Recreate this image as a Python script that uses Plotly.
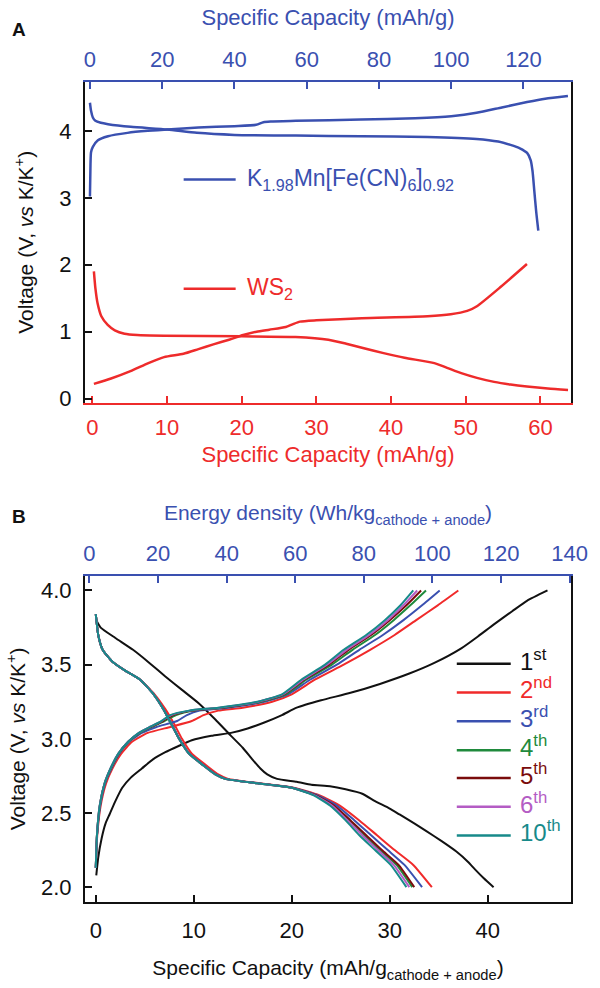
import plotly.graph_objects as go

# ---------------- Panel A data ----------------
# K1.98Mn[Fe(CN)6]0.92 cathode (top x axis, mAh/g)
k_chg_cap = [0, 0.15, 0.3, 0.8, 2.2, 5, 10.4, 16, 21.4, 30, 40, 46, 48, 50, 57, 75, 90, 100, 107, 114, 121, 126, 132.3]
k_chg_v = [3.02, 3.5, 3.68, 3.76, 3.86, 3.92, 3.97, 4.00, 4.02, 4.05, 4.07, 4.09, 4.13, 4.14, 4.15, 4.17, 4.19, 4.22, 4.27, 4.35, 4.43, 4.48, 4.52]
k_dis_cap = [0, 0.3, 0.8, 1.5, 3, 5, 11.3, 21.4, 29.6, 40, 57, 75, 93.4, 107, 113, 116.4, 119, 121, 122, 122.5, 123.0, 123.5, 124.1]
k_dis_v = [4.42, 4.3, 4.2, 4.15, 4.12, 4.10, 4.06, 4.02, 3.97, 3.94, 3.93, 3.92, 3.91, 3.88, 3.84, 3.79, 3.74, 3.67, 3.56, 3.4, 3.1, 2.8, 2.51]
# WS2 anode (bottom x axis, mAh/g)
ws2_chg_cap = [0.2, 2.5, 5.1, 7.5, 9.6, 12.2, 14.2, 16.2, 18.3, 20.2, 22, 23.7, 25.9, 26.8, 27.8, 30, 36.1, 44.9, 48, 50.2, 51.5, 54.7, 58.2]
ws2_chg_v = [0.22, 0.30, 0.41, 0.53, 0.62, 0.67, 0.74, 0.81, 0.88, 0.95, 1.00, 1.03, 1.07, 1.11, 1.15, 1.17, 1.20, 1.23, 1.26, 1.31, 1.38, 1.67, 2.01]
ws2_dis_cap = [0.2, 0.4, 0.7, 1.2, 2.05, 3, 4.3, 6, 9.6, 20, 27.2, 31.6, 34, 36.1, 39, 41.8, 45.8, 47.5, 49.4, 51.5, 53.8, 56, 58.2, 61, 63.7]
ws2_dis_v = [1.90, 1.65, 1.42, 1.23, 1.10, 1.02, 0.97, 0.95, 0.94, 0.93, 0.92, 0.88, 0.82, 0.76, 0.68, 0.61, 0.53, 0.46, 0.38, 0.31, 0.25, 0.21, 0.18, 0.15, 0.13]

# ---------------- Panel B data ----------------
cycle_labels = ["1<sup>st</sup>", "2<sup>nd</sup>", "3<sup>rd</sup>", "4<sup>th</sup>",
                "5<sup>th</sup>", "6<sup>th</sup>", "10<sup>th</sup>"]
cycle_colors = ["#111111", "#f02a2a", "#3a50b0", "#1f8a3c", "#7a0c0c", "#b45cc4", "#178a8a"]

# 1st cycle (black)
c1_chg_cap = [0.05, 0.25, 0.6, 1.0, 1.4, 2.0, 2.7, 3.6, 4.7, 5.8, 7.1, 8.4, 9.8, 11.8, 13.8, 15.5, 17.2, 19, 20.5, 23.0, 26, 29, 32, 34.5, 37.3, 39, 40.6, 42.5, 44, 46.1]
c1_chg_v = [2.08, 2.2, 2.33, 2.43, 2.49, 2.58, 2.67, 2.74, 2.80, 2.86, 2.91, 2.95, 2.99, 3.02, 3.04, 3.07, 3.11, 3.16, 3.21, 3.26, 3.31, 3.37, 3.44, 3.51, 3.61, 3.69, 3.77, 3.86, 3.93, 4.0]
c1_dis_cap = [0.05, 0.5, 2, 3.8, 5.5, 7.1, 8.8, 10.5, 12.2, 13.8, 15.0, 16.0, 16.8, 17.5, 18.5, 20.5, 22, 23.9, 25.5, 27.2, 28.5, 30, 31, 32.5, 33.7, 35.3, 36.8, 38, 38.7, 39.6, 40.6]
c1_dis_v = [3.80, 3.75, 3.68, 3.60, 3.51, 3.42, 3.33, 3.24, 3.13, 3.02, 2.94, 2.86, 2.80, 2.76, 2.73, 2.71, 2.69, 2.68, 2.66, 2.63, 2.58, 2.53, 2.49, 2.43, 2.38, 2.31, 2.24, 2.17, 2.12, 2.06, 2.0]

# Cycles 2-10: voltages read at fixed levels, capacity per cycle
v_chg_levels = [2.13, 2.35, 2.55, 2.70, 2.80, 2.90, 2.98, 3.04, 3.08, 3.12, 3.16, 3.19, 3.21, 3.25, 3.30, 3.40, 3.50, 3.60, 3.70, 3.80, 3.90, 4.00]
cap_chg_c2 = [0.0, 0.15, 0.5, 1.05, 1.7, 2.6, 3.7, 5.3, 7.6, 9.8, 11.0, 12.5, 15.0, 18.0, 20.0, 22.4, 25.3, 28.0, 30.5, 32.7, 34.9, 37.0]
cap_chg_c3 = [0.0, 0.13, 0.45, 0.95, 1.6, 2.4, 3.4, 4.7, 6.2, 8.3, 9.3, 10.6, 13.5, 17.2, 19.6, 21.9, 24.6, 26.9, 29.3, 31.4, 33.3, 35.1]
cap_chg_c4 = [0.0, 0.12, 0.42, 0.92, 1.55, 2.35, 3.35, 4.5, 5.7, 7.0, 8.2, 10.0, 13.0, 16.9, 19.4, 21.5, 24.1, 26.2, 28.5, 30.4, 32.1, 33.7]
cap_chg_c5 = [0.0, 0.12, 0.41, 0.91, 1.52, 2.32, 3.3, 4.45, 5.6, 6.85, 7.9, 9.8, 12.8, 16.7, 19.2, 21.3, 23.8, 25.8, 28.1, 30.0, 31.7, 33.2]
cap_chg_c6 = [0.0, 0.12, 0.4, 0.9, 1.5, 2.3, 3.3, 4.4, 5.5, 6.7, 7.7, 9.6, 12.6, 16.6, 19.1, 21.2, 23.6, 25.6, 27.9, 29.8, 31.4, 32.8]
cap_chg_c10 = [0.0, 0.12, 0.4, 0.9, 1.5, 2.3, 3.3, 4.4, 5.5, 6.7, 7.6, 9.5, 12.5, 16.5, 19.0, 21.0, 23.4, 25.3, 27.6, 29.5, 31.1, 32.4]

v_dis_levels = [3.84, 3.70, 3.60, 3.52, 3.46, 3.40, 3.30, 3.20, 3.10, 3.00, 2.90, 2.82, 2.76, 2.73, 2.70, 2.67, 2.62, 2.55, 2.45, 2.35, 2.25, 2.15, 2.00]
cap_dis_c2 = [0.0, 0.25, 0.7, 1.7, 3.0, 4.5, 6.0, 7.1, 8.0, 8.8, 9.8, 11.3, 12.5, 13.5, 16.8, 20.2, 22.8, 24.9, 26.9, 28.7, 30.5, 32.4, 34.3]
cap_dis_c3 = [0.0, 0.25, 0.7, 1.7, 3.0, 4.5, 5.9, 6.9, 7.75, 8.55, 9.55, 11.05, 12.25, 13.25, 16.6, 20.1, 22.6, 24.6, 26.4, 28.1, 29.8, 31.5, 33.3]
cap_dis_c4 = [0.0, 0.25, 0.7, 1.7, 3.0, 4.5, 5.9, 6.9, 7.7, 8.5, 9.5, 11.0, 12.2, 13.2, 16.5, 20.0, 22.4, 24.2, 25.9, 27.4, 29.0, 30.7, 32.3]
cap_dis_c5 = [0.0, 0.25, 0.7, 1.7, 3.0, 4.5, 5.9, 6.9, 7.7, 8.5, 9.5, 11.0, 12.2, 13.2, 16.5, 20.0, 22.4, 24.3, 26.0, 27.6, 29.2, 30.9, 32.5]
cap_dis_c6 = [0.0, 0.25, 0.7, 1.7, 3.0, 4.5, 5.9, 6.9, 7.7, 8.5, 9.5, 11.0, 12.2, 13.2, 16.5, 20.0, 22.3, 24.1, 25.7, 27.2, 28.8, 30.4, 32.0]
cap_dis_c10 = [0.0, 0.25, 0.7, 1.7, 3.0, 4.5, 5.9, 6.9, 7.7, 8.5, 9.5, 11.0, 12.2, 13.2, 16.5, 20.0, 22.2, 23.9, 25.5, 26.9, 28.5, 30.1, 31.7]

# tick values
a_y_ticks = [0, 1, 2, 3, 4]
a_top_ticks = [0, 20, 40, 60, 80, 100, 120]
a_bot_ticks = [0, 10, 20, 30, 40, 50, 60]
b_y_ticks = [2.0, 2.5, 3.0, 3.5, 4.0]
b_bot_ticks = [0, 10, 20, 30, 40]
b_top_ticks = [0, 20, 40, 60, 80, 100, 120, 140]

BLUE = "#3a50b0"
RED = "#ee2b2b"
FONT = "Liberation Sans, Arial, sans-serif"

fig = go.Figure()

spl = dict(shape="spline", smoothing=0.6)
# Panel A traces
fig.add_trace(go.Scatter(x=k_chg_cap, y=k_chg_v, xaxis="x2", yaxis="y", mode="lines",
                         line=dict(color=BLUE, width=2.5, **spl), showlegend=False))
fig.add_trace(go.Scatter(x=k_dis_cap, y=k_dis_v, xaxis="x2", yaxis="y", mode="lines",
                         line=dict(color=BLUE, width=2.5, **spl), showlegend=False))
fig.add_trace(go.Scatter(x=ws2_chg_cap, y=ws2_chg_v, xaxis="x", yaxis="y", mode="lines",
                         line=dict(color=RED, width=2.5, **spl), showlegend=False))
fig.add_trace(go.Scatter(x=ws2_dis_cap, y=ws2_dis_v, xaxis="x", yaxis="y", mode="lines",
                         line=dict(color=RED, width=2.5, **spl), showlegend=False))

# Panel B traces
chg_caps = [c1_chg_cap, cap_chg_c2, cap_chg_c3, cap_chg_c4, cap_chg_c5, cap_chg_c6, cap_chg_c10]
dis_caps = [c1_dis_cap, cap_dis_c2, cap_dis_c3, cap_dis_c4, cap_dis_c5, cap_dis_c6, cap_dis_c10]
for i, col in enumerate(cycle_colors):
    cv = c1_chg_v if i == 0 else v_chg_levels
    dv = c1_dis_v if i == 0 else v_dis_levels
    fig.add_trace(go.Scatter(x=chg_caps[i], y=cv, xaxis="x3", yaxis="y2", mode="lines",
                             line=dict(color=col, width=2, shape="spline", smoothing=0.5), showlegend=False))
    fig.add_trace(go.Scatter(x=dis_caps[i], y=dv, xaxis="x3", yaxis="y2", mode="lines",
                             line=dict(color=col, width=2, shape="spline", smoothing=0.5), showlegend=False))
# anchor trace for the energy density axis
fig.add_trace(go.Scatter(x=[], y=[], xaxis="x4", yaxis="y2", showlegend=False))

tickfont = dict(family=FONT, size=22)
common = dict(showline=True, linewidth=2, ticks="inside", ticklen=7, tickwidth=1.5,
              showgrid=False, zeroline=False)

yA = 0.609
yB = 0.398

fig.update_layout(
    width=600, height=988,
    margin=dict(l=85, r=22, t=82, b=80),
    paper_bgcolor="white", plot_bgcolor="white",
    font=dict(family=FONT, size=20, color="#111"),
    hovermode=False,
    xaxis=dict(domain=[0, 1], anchor="y", range=[-0.99, 64.1], tickvals=a_bot_ticks,
               linecolor=RED, tickcolor=RED, tickfont=dict(tickfont, color=RED), ticklabelstandoff=4,
               title=dict(text="Specific Capacity (mAh/g)", font=dict(family=FONT, size=22, color=RED), standoff=8),
               **common),
    xaxis2=dict(domain=[0, 1], anchor="y", overlaying="x", side="top", range=[-1.37, 133.15],
                tickvals=a_top_ticks, linecolor=BLUE, tickcolor=BLUE, tickfont=dict(tickfont, color=BLUE),
                ticklabelstandoff=4,
                title=dict(text="Specific Capacity (mAh/g)", font=dict(family=FONT, size=22, color=BLUE), standoff=16),
                **common),
    yaxis=dict(domain=[yA, 1], anchor="x", range=[-0.06, 4.73], tickvals=a_y_ticks,
               linecolor="#111", tickcolor="#111", mirror=True, tickfont=tickfont, ticklabelstandoff=7,
               title=dict(text="Voltage (V, <i>vs</i> K/K<sup>+</sup>)", font=dict(family=FONT, size=21), standoff=20),
               **common),
    xaxis3=dict(domain=[0, 1], anchor="y2", range=[-1.1, 48.5], tickvals=b_bot_ticks,
                linecolor="#111", tickcolor="#111", tickfont=tickfont, ticklabelstandoff=8,
                title=dict(text="Specific Capacity (mAh/g<sub>cathode + anode</sub>)", font=dict(family=FONT, size=21), standoff=18),
                **common),
    xaxis4=dict(domain=[0, 1], anchor="y2", overlaying="x3", side="top", range=[-1.3, 140.4],
                tickvals=b_top_ticks, linecolor=BLUE, tickcolor=BLUE, tickfont=dict(tickfont, color=BLUE),
                ticklabelstandoff=4,
                title=dict(text="Energy density (Wh/kg<sub>cathode + anode</sub>)", font=dict(family=FONT, size=21, color=BLUE), standoff=14),
                **common),
    yaxis2=dict(domain=[0, yB], anchor="x3", range=[1.90, 4.10], tickvals=b_y_ticks, tickformat=".1f",
                linecolor="#111", tickcolor="#111", mirror=True, tickfont=tickfont, ticklabelstandoff=7,
                title=dict(text="Voltage (V, <i>vs</i> K/K<sup>+</sup>)", font=dict(family=FONT, size=21), standoff=10),
                **common),
)

# panel letters
fig.add_annotation(text="<b>A</b>", xref="paper", yref="paper", x=-0.155, y=1.064, showarrow=False,
                   font=dict(family=FONT, size=19, color="#111"), xanchor="left", yanchor="middle")
fig.add_annotation(text="<b>B</b>", xref="paper", yref="paper", x=-0.155, y=0.47, showarrow=False,
                   font=dict(family=FONT, size=19, color="#111"), xanchor="left", yanchor="middle")

# Panel A key
fig.add_shape(type="line", xref="paper", yref="paper", x0=0.203, x1=0.310, y0=0.881, y1=0.881,
              line=dict(color=BLUE, width=2.5))
fig.add_annotation(text="K<sub>1.98</sub>Mn[Fe(CN)<sub>6</sub>]<sub>0.92</sub>", xref="paper", yref="paper",
                   x=0.33, y=0.881, xanchor="left", yanchor="middle", showarrow=False,
                   font=dict(family=FONT, size=23, color=BLUE))
fig.add_shape(type="line", xref="paper", yref="paper", x0=0.203, x1=0.310, y0=0.748, y1=0.748,
              line=dict(color=RED, width=2.5))
fig.add_annotation(text="WS<sub>2</sub>", xref="paper", yref="paper",
                   x=0.33, y=0.748, xanchor="left", yanchor="middle", showarrow=False,
                   font=dict(family=FONT, size=23, color=RED))

# Panel B key
rows_y = [0.2906, 0.2554, 0.2203, 0.1852, 0.1513, 0.1162, 0.0811]
for lab, col, yy in zip(cycle_labels, cycle_colors, rows_y):
    fig.add_shape(type="line", xref="paper", yref="paper", x0=0.765, x1=0.876, y0=yy, y1=yy,
                  line=dict(color=col, width=2.5))
    fig.add_annotation(text=lab, xref="paper", yref="paper", x=0.89, y=yy + 0.005, xanchor="left",
                       yanchor="middle", showarrow=False, font=dict(family=FONT, size=24, color=col))

fig.write_html("out.html", config={"displayModeBar": False},
               post_script="document.body.style.margin='0px';")
